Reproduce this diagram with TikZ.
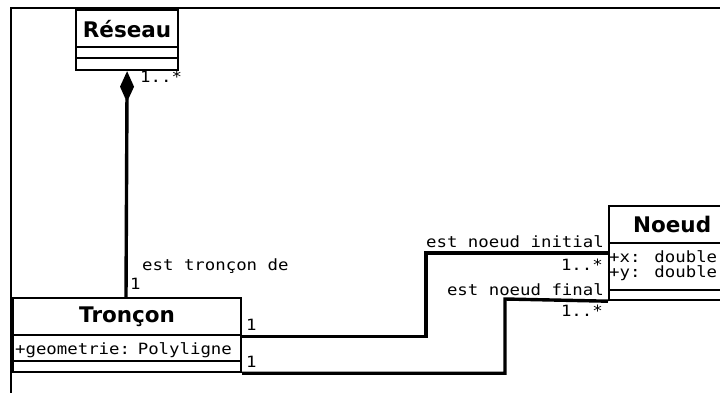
\documentclass[tikz,border=0pt]{standalone}
\usepackage{fontspec}
\usetikzlibrary{arrows.meta}
\newfontfamily\lblfont[FakeStretch=1.12]{DejaVu Sans Mono}
\newfontfamily\ttlfont{DejaVu Sans}
\tikzset{
  frame/.style={line width=2pt},
  ttl/.style={draw, line width=2.2pt, inner sep=0pt, anchor=north west, font=\ttlfont\bfseries\fontsize{21.5}{22}\selectfont},
  comp/.style={draw, line width=2.2pt, inner sep=1pt, anchor=north west, align=left, text depth=0pt, font=\lblfont\fontsize{15.5}{16}\selectfont},
  assoc/.style={line width=3.4pt},
  lbl/.style={inner sep=0pt, font=\lblfont\fontsize{15.5}{16}\selectfont}
}
\begin{document}
\begin{tikzpicture}[x=1pt,y=-1pt]
\useasboundingbox (0,0) rectangle (720,393);
\clip (0,0) rectangle (720,393);
\draw[frame] (11,393) -- (11,8) -- (720,8);
% Reseau
\node[ttl, minimum width=102pt, minimum height=37pt] (res1) at (75,9) {Réseau};
\node[comp, minimum width=102pt, minimum height=11pt] (res2) at (75,46) {};
\node[comp, minimum width=102pt, minimum height=12pt] (res3) at (75,57) {};
% Troncon
\node[ttl, minimum width=228pt, minimum height=37pt] (tr1) at (12,297) {Tronçon};
\node[comp, minimum width=228pt, minimum height=26pt, text width=224pt] (tr2) at (12,334) {+geometrie: Polyligne};
\node[comp, minimum width=228pt, minimum height=11pt] (tr3) at (12,360) {};
% Noeud
\node[ttl, minimum width=130pt, minimum height=37pt, text width=110pt, align=left] (no1) at (608,205) {\hspace*{14pt}Noeud};
\node[comp, minimum width=130pt, minimum height=47pt, text width=126pt] (no2) at (608,242) {};
\node[lbl, anchor=west] (nx) at (609,257) {+x: double};
\node[lbl, anchor=west] (ny) at (609,273) {+y: double};
\node[comp, minimum width=130pt, minimum height=10pt] (no3) at (608,289) {};
% composition
\coordinate (c0) at (126,297);
\draw[assoc, {Diamond[length=31pt,width=14pt,line width=0pt]}-] (res3.south) -- (c0);
% associations
\coordinate (c1) at (426,253);
\coordinate (c2) at (505,299);
\draw[assoc] (tr1.south east) -| (c1) -- (c1 -| no2.west);
\draw[assoc] (tr3.south east) -| (c2) -- (no3.south west);
% labels
\node[lbl, anchor=west] (m1) at (140,77) {1..*};
\node[lbl, anchor=west] (a1) at (142,266) {est tronçon de};
\node[lbl, anchor=west] (m2) at (130,284) {1};
\node[lbl, anchor=west] (m3) at (246,325) {1};
\node[lbl, anchor=west] (m4) at (246,362) {1};
\node[lbl, anchor=east] (a2) at (604,242) {est noeud initial};
\node[lbl, anchor=east] (m5) at (603,265) {1..*};
\node[lbl, anchor=east] (a3) at (604,290) {est noeud final};
\node[lbl, anchor=east] (m6) at (603,311) {1..*};
\end{tikzpicture}
\end{document}
